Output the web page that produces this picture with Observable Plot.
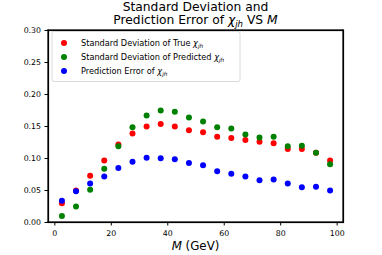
<!DOCTYPE html>
<html><head><meta charset="utf-8">
<script src="https://cdn.jsdelivr.net/npm/d3@7"></script>
<script src="https://cdn.jsdelivr.net/npm/@observablehq/plot@0.6"></script>
<style>body{margin:0;background:#fff}</style>
</head><body><div id="chart"></div>
<script>
const masses = [2.5,7.5,12.5,17.5,22.5,27.5,32.5,37.5,42.5,47.5,52.5,57.5,62.5,67.5,72.5,77.5,82.5,87.5,92.5,97.5];
const stdTrue = [0.030,0.050,0.073,0.097,0.122,0.139,0.150,0.154,0.150,0.144,0.141,0.134,0.132,0.129,0.126,0.124,0.115,0.115,0.109,0.097];
const stdPred = [0.010,0.025,0.051,0.084,0.119,0.149,0.167,0.175,0.173,0.164,0.158,0.149,0.147,0.1375,0.133,0.134,0.119,0.120,0.109,0.091];
const predError = [0.034,0.049,0.061,0.072,0.085,0.095,0.101,0.1005,0.099,0.093,0.0896,0.080,0.076,0.072,0.066,0.067,0.061,0.055,0.056,0.050];
const seriesNames = ["Standard Deviation of True", "Standard Deviation of Predicted", "Prediction Error of"];
const seriesColors = ["#ff0000","#008000","#0000ff"];
const xDomain = [-2.25, 102.25];
const yDomain = [0, 0.30];
const yTicks = [0,0.05,0.10,0.15,0.20,0.25,0.30];
const xTicks = [0,20,40,60,80,100];
const titleLines = ["Standard Deviation and", "Prediction Error of "];

const rows = [];
[stdTrue, stdPred, predError].forEach((vals, k) =>
  vals.forEach((v, i) => rows.push({M: masses[i], value: v, series: seriesNames[k]})));

const W = 382, H = 255, mL = 48, mR = 39, mT = 30, mB = 33;
const plot = Plot.plot({
  width: W, height: H, marginLeft: mL, marginRight: mR, marginTop: mT, marginBottom: mB,
  style: {fontFamily: "DejaVu Sans", fontSize: "7.8px", color: "#000", background: "#fff"},
  x: {domain: xDomain, ticks: xTicks, label: null, tickSize: 3.5, tickPadding: 4, tickFormat: d => d},
  y: {domain: yDomain, ticks: yTicks, tickFormat: d3.format(".2f"), label: null, tickSize: 3.5, tickPadding: 4},
  color: {domain: seriesNames, range: seriesColors},
  marks: [
    Plot.frame({stroke: "#000", strokeWidth: 1.2, fill: "none"}),
    Plot.dot(rows, {x: "M", y: "value", fill: "series", r: 3})
  ]
});
document.getElementById("chart").appendChild(plot);
const svg = d3.select(plot);
const x0 = mL, x1 = W - mR, y0 = mT, y1 = H - mB;
const cx = (x0 + x1) / 2;

// axes spines as filled rects
const lw = 1.2;
const spines = svg.append("g").attr("fill", "#000");
spines.append("rect").attr("x", x0 - lw / 2).attr("y", y0 - lw / 2).attr("width", lw).attr("height", y1 - y0 + lw);
spines.append("rect").attr("x", x1 - lw / 2).attr("y", y0 - lw / 2).attr("width", lw).attr("height", y1 - y0 + lw);
spines.append("rect").attr("x", x0 - lw / 2).attr("y", y0 - lw / 2).attr("width", x1 - x0 + lw).attr("height", lw);
spines.append("rect").attr("x", x0 - lw / 2).attr("y", y1 - lw / 2).attr("width", x1 - x0 + lw).attr("height", lw);

function chi(sel, size) {
  const d = size * 0.22;
  sel.append("tspan").attr("font-style", "italic").text("χ");
  sel.append("tspan").attr("font-style", "italic").attr("font-size", (size * 0.7) + "px").attr("dy", d + "px").text("jh");
  return d;
}

// title
const TS = 12.3;
svg.append("text").attr("x", cx).attr("y", 10.5).attr("text-anchor", "middle")
  .attr("font-size", TS + "px").attr("font-family", "DejaVu Sans").text(titleLines[0]);
const t2 = svg.append("text").attr("x", cx).attr("y", 24.3).attr("text-anchor", "middle")
  .attr("font-size", TS + "px").attr("font-family", "DejaVu Sans");
t2.append("tspan").text(titleLines[1]);
const d2 = chi(t2, TS);
t2.append("tspan").attr("dy", (-d2) + "px").text(" VS ");
t2.append("tspan").attr("font-style", "italic").text("M");

// x label
const xl = svg.append("text").attr("x", cx).attr("y", 249.5).attr("text-anchor", "middle")
  .attr("font-size", "11.8px").attr("font-family", "DejaVu Sans");
xl.append("tspan").attr("font-style", "italic").text("M");
xl.append("tspan").text(" (GeV)");

// legend
const LS = 8.2;
const lg = svg.append("g").attr("font-family", "DejaVu Sans").attr("font-size", LS + "px").attr("text-anchor", "start");
lg.append("rect").attr("x", 52).attr("y", 31.5).attr("width", 188).attr("height", 50).attr("rx", 2)
  .attr("fill", "#fff").attr("fill-opacity", 0.85).attr("stroke", "#d0d0d0").attr("stroke-width", 0.8);
seriesNames.forEach((name, k) => {
  const y = 43 + k * 14;
  lg.append("circle").attr("cx", 64).attr("cy", y).attr("r", 3).attr("fill", seriesColors[k]);
  const t = lg.append("text").attr("x", 81).attr("y", y + 3).attr("text-anchor", "start");
  t.append("tspan").text(name + " ");
  chi(t, LS);
});
</script></body></html>
